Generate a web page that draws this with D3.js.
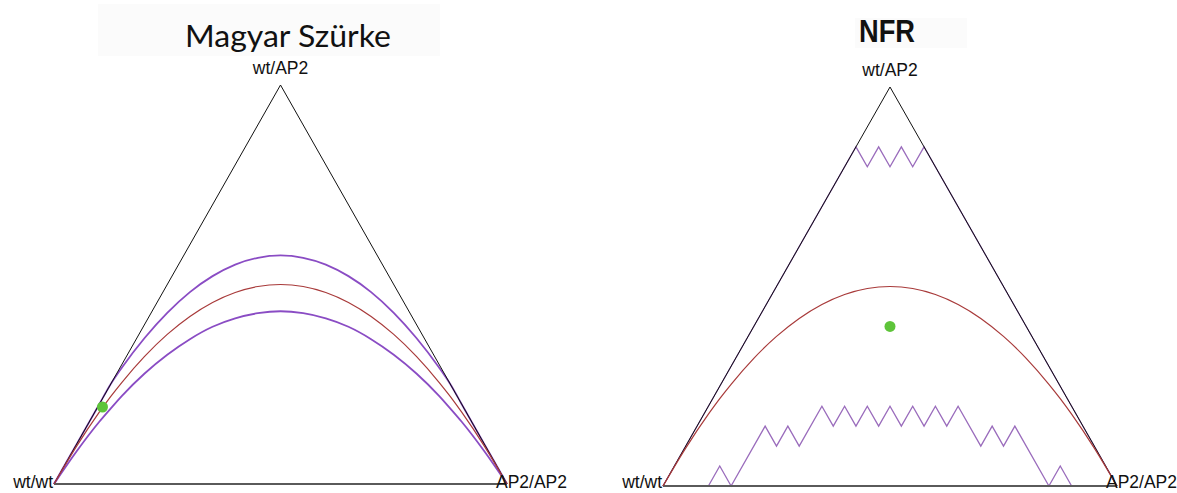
<!DOCTYPE html>
<html>
<head>
<meta charset="utf-8">
<script src="https://cdn.jsdelivr.net/npm/d3@7"></script>
<style>
  html, body { margin: 0; padding: 0; background: #ffffff; }
  svg { display: block; }
</style>
</head>
<body>
<script>
// De Finetti diagrams: genotype frequencies for wt/wt, wt/AP2, AP2/AP2.
// Horizontal position = AP2 allele frequency, height = wt/AP2 (heterozygote) frequency.

const panelTitles = ["Magyar Szürke", "NFR"];
const genotypeLabels = ["wt/wt", "wt/AP2", "AP2/AP2"];

// Hardy–Weinberg parabola, sampled along the allele-frequency axis
const hweQ = [0, 0.05, 0.1, 0.125, 0.15, 0.2, 0.25, 0.3, 0.35, 0.4, 0.45, 0.5,
              0.55, 0.6, 0.65, 0.7, 0.75, 0.8, 0.85, 0.875, 0.9, 0.95, 1];
const hweH = [0, 0.095, 0.18, 0.219, 0.255, 0.32, 0.375, 0.42, 0.455, 0.48, 0.495, 0.5,
              0.495, 0.48, 0.455, 0.42, 0.375, 0.32, 0.255, 0.219, 0.18, 0.095, 0];

// Magyar Szürke: acceptance limits (same allele-frequency grid)
const magyarUpperH = [0, 0.1, 0.2, 0.25, 0.292, 0.366, 0.429, 0.481, 0.521, 0.55, 0.567, 0.573,
                      0.567, 0.55, 0.521, 0.481, 0.429, 0.366, 0.292, 0.25, 0.2, 0.1, 0];
const magyarLowerH = [0, 0.082, 0.156, 0.189, 0.221, 0.277, 0.324, 0.363, 0.394, 0.415, 0.428, 0.433,
                      0.428, 0.415, 0.394, 0.363, 0.324, 0.277, 0.221, 0.189, 0.156, 0.082, 0];
const magyarSampleQ = [0.107];
const magyarSampleH = [0.193];

// NFR: acceptance limits (small sample, stepwise)
const nfrUpperQ = [0, 0.425, 0.45, 0.475, 0.5, 0.525, 0.55, 0.575, 1];
const nfrUpperH = [0, 0.85, 0.8, 0.85, 0.8, 0.85, 0.8, 0.85, 0];
const nfrLowerQ = [0.1, 0.125, 0.15, 0.225, 0.25, 0.275, 0.3, 0.35, 0.375, 0.4, 0.425, 0.45, 0.475,
                   0.5, 0.525, 0.55, 0.575, 0.6, 0.625, 0.65, 0.7, 0.725, 0.75, 0.775, 0.85, 0.875, 0.9];
const nfrLowerH = [0, 0.05, 0, 0.15, 0.1, 0.15, 0.1, 0.2, 0.15, 0.2, 0.15, 0.2, 0.15,
                   0.2, 0.15, 0.2, 0.15, 0.2, 0.15, 0.2, 0.1, 0.15, 0.1, 0.15, 0, 0.05, 0];
const nfrSampleQ = [0.5];
const nfrSampleH = [0.4];

// Triangle corners in (allele frequency, heterozygote frequency)
const cornerQ = [0, 0.5, 1];
const cornerH = [0, 1, 0];

const zip = (xs, ys) => xs.map((x, i) => [x, ys[i]]);

const panels = [
  {
    title: panelTitles[0],
    layout: { x0: 54, x1: 507, base: 484, apex: 85, titleX: 288, titleY: 47, titleSize: 31,
              titleFont: "Lato, 'Open Sans', sans-serif", titleWeight: 400, titleLen: 206,
              box: [98, 4, 342, 52], smoothLimits: true, limitColor: "#8a4cc4", limitWidth: 1.8 },
    upper: zip(hweQ, magyarUpperH),
    lower: zip(hweQ, magyarLowerH),
    hwe: zip(hweQ, hweH),
    samples: zip(magyarSampleQ, magyarSampleH)
  },
  {
    title: panelTitles[1],
    layout: { x0: 663, x1: 1117, base: 486, apex: 87, titleX: 887, titleY: 42, titleSize: 31,
              titleFont: "'Liberation Sans', Arial, sans-serif", titleWeight: 700, titleLen: 56,
              box: [855, 18, 112, 30], smoothLimits: false, limitColor: "#9a6cbc", limitWidth: 1.3 },
    upper: zip(nfrUpperQ, nfrUpperH),
    lower: zip(nfrLowerQ, nfrLowerH),
    hwe: zip(hweQ, hweH),
    samples: zip(nfrSampleQ, nfrSampleH)
  }
];

const svg = d3.select("body").append("svg")
  .attr("width", 1177)
  .attr("height", 493);

const labelFont = "'Liberation Sans', Arial, sans-serif";
const labelBaseline = 488;

panels.forEach(p => {
  const L = p.layout;
  const x = d3.scaleLinear().domain([0, 1]).range([L.x0, L.x1]);
  const y = d3.scaleLinear().domain([0, 1]).range([L.base, L.apex]);
  const g = svg.append("g");

  // faint backdrop behind the title
  g.append("rect")
    .attr("x", L.box[0]).attr("y", L.box[1])
    .attr("width", L.box[2]).attr("height", L.box[3])
    .attr("fill", "#fbfbfb");

  g.append("text")
    .attr("x", L.titleX).attr("y", L.titleY)
    .attr("text-anchor", "middle")
    .attr("font-family", L.titleFont)
    .attr("font-weight", L.titleWeight)
    .attr("font-size", L.titleSize)
    .attr("textLength", L.titleLen)
    .attr("lengthAdjust", "spacingAndGlyphs")
    .attr("fill", "#111")
    .text(p.title);

  const smooth = d3.line().x(d => x(d[0])).y(d => y(d[1])).curve(d3.curveMonotoneX);
  const straight = d3.line().x(d => x(d[0])).y(d => y(d[1]));
  const limitLine = L.smoothLimits ? smooth : straight;

  // acceptance limits
  [p.upper, p.lower].forEach(series => {
    g.append("path")
      .attr("d", limitLine(series))
      .attr("fill", "none")
      .attr("stroke", L.limitColor)
      .attr("stroke-width", L.limitWidth)
      .attr("stroke-linejoin", "miter");
  });

  // triangle sides
  const corners = zip(cornerQ, cornerH);
  g.append("path")
    .attr("d", straight([corners[0], corners[1], corners[2]]))
    .attr("fill", "none")
    .attr("stroke", "#111")
    .attr("stroke-width", 1);
  g.append("path")
    .attr("d", straight([corners[0], corners[2]]))
    .attr("fill", "none")
    .attr("stroke", "#5a5a5a")
    .attr("stroke-width", 1.8);

  // Hardy–Weinberg parabola
  g.append("path")
    .attr("d", smooth(p.hwe))
    .attr("fill", "none")
    .attr("stroke", "#a83a3a")
    .attr("stroke-width", 1.2);

  // observed population
  g.selectAll("circle.sample").data(p.samples).join("circle")
    .attr("class", "sample")
    .attr("cx", d => x(d[0]))
    .attr("cy", d => y(d[1]))
    .attr("r", 5.5)
    .attr("fill", "#5ec43a");

  // corner labels
  g.append("text")
    .attr("x", x(cornerQ[0]) - 1).attr("y", labelBaseline)
    .attr("text-anchor", "end")
    .attr("font-family", labelFont).attr("font-size", 17.5)
    .attr("fill", "#111")
    .text(genotypeLabels[0]);
  g.append("text")
    .attr("x", x(cornerQ[1])).attr("y", y(cornerH[1]) - 11)
    .attr("text-anchor", "middle")
    .attr("font-family", labelFont).attr("font-size", 17.5)
    .attr("fill", "#111")
    .text(genotypeLabels[1]);
  g.append("text")
    .attr("x", x(cornerQ[2]) - 11).attr("y", labelBaseline)
    .attr("text-anchor", "start")
    .attr("font-family", labelFont).attr("font-size", 17.5)
    .attr("fill", "#111")
    .text(genotypeLabels[2]);
});
</script>
</body>
</html>
